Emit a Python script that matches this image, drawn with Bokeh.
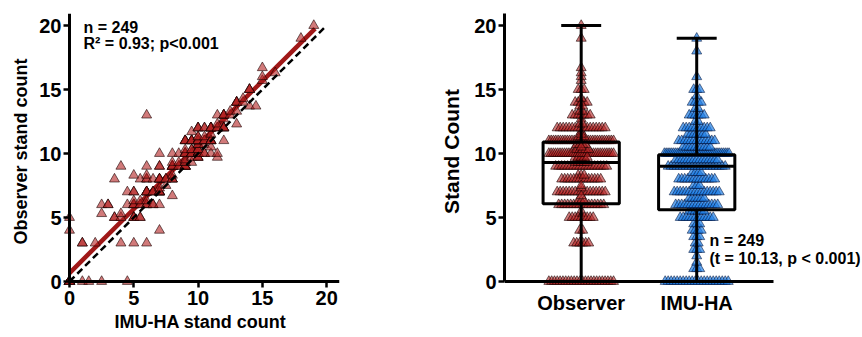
import numpy as np
from bokeh.plotting import figure
from bokeh.layouts import row
from bokeh.models import Range1d, FixedTicker, Label, LinearAxis
from bokeh.embed import file_html
from bokeh.resources import INLINE

# ---------------- data ----------------
# paired stand counts: IMU-HA (x), Observer (y), number of plots with that pair
imu_x = [0, 0, 0,
         1, 1, 1.5, 2, 2.5, 2.5, 2.5, 3, 3.5, 3.5,
         4, 4, 4, 4, 4.5, 4.5, 4.5,
         5, 5, 5, 5, 5, 5,
         5.5, 5.5, 5.5, 5.5,
         6, 6, 6, 6, 6, 6, 6, 6,
         6.5, 6.5, 6.5,
         7, 7, 7, 7, 7, 7, 7,
         7.5, 7.5,
         8, 8, 8, 8, 8, 8,
         8.5, 8.5, 8.5,
         9, 9, 9, 9, 9, 9,
         9.5, 9.5, 9.5, 9.5, 9.5, 9.5,
         10, 10, 10, 10, 10, 10, 10,
         10.5, 10.5, 10.5, 10.5, 10.5,
         11, 11, 11, 11, 11,
         11.5, 11.5, 11.5, 11.5, 11.5,
         12, 12, 12, 12,
         12.5, 12.5,
         13, 13, 13,
         13.5, 13.5,
         14, 14,
         14.5,
         15, 15, 15,
         16, 18, 19]
obs_y = [0, 4, 5,
         0, 3, 0, 3, 0, 5.3, 6, 6, 5, 8,
         3, 5, 5.3, 9, 0, 6, 7,
         3, 5, 6, 6.3, 7, 8.3,
         5, 6, 6.3, 8,
         3, 6, 6.3, 7, 8, 8.3, 9, 13,
         6, 7, 8,
         4, 6, 7, 7.3, 8, 9, 10,
         7.5, 8,
         6.7, 8, 8.3, 9, 9.3, 10,
         9, 9.3, 10,
         9, 9.3, 9.5, 10, 10.3, 11,
         9.3, 9.7, 10, 10.3, 11, 11.7,
         9.7, 10, 10.3, 10.7, 11, 11.3, 12,
         10, 10.7, 11, 11.3, 12,
         10, 10.5, 11, 11.5, 12,
         9.7, 10, 12, 12.3, 13,
         11, 12, 12.7, 13,
         13, 13.3,
         12.3, 13.3, 14,
         14, 14.3,
         13.7, 15,
         13.7,
         15.7, 16, 16.7,
         16.3, 19, 20]
pair_count = [20, 1, 1,
              1, 2, 1, 1, 1, 1, 1, 2, 2, 1,
              1, 1, 1, 1, 1, 1, 1,
              1, 3, 4, 1, 2, 1,
              2, 2, 1, 1,
              1, 3, 1, 5, 2, 1, 1, 1,
              2, 3, 1,
              1, 1, 6, 1, 4, 2, 1,
              1, 2,
              1, 3, 1, 6, 1, 1,
              2, 1, 1,
              6, 2, 1, 6, 1, 4,
              1, 1, 5, 2, 5, 1,
              3, 12, 3, 3, 10, 2, 3,
              2, 1, 4, 1, 2,
              1, 1, 5, 1, 5,
              1, 1, 3, 1, 1,
              1, 4, 1, 4,
              1, 1,
              1, 1, 4,
              1, 1,
              1, 3,
              1,
              1, 1, 1,
              1, 1, 1]

# regression fit (Observer = a + b * IMU-HA)
reg_intercept = 0.66
reg_slope = 1.0
reg_x_range = [0, 19.1]

# box plot summary
groups = ["Observer", "IMU-HA"]
box_min = [0, 0]
box_q1 = [6.07, 5.6]
box_median = [9.3, 9.0]
box_q3 = [10.9, 9.9]
box_max = [20, 19]

count_ticks = [0, 5, 10, 15, 20]
n_text = "n = 249"
r2_text = "R\u00b2 = 0.93; p<0.001"
t_text = "(t = 10.13, p < 0.001)"

# ---------------- helpers ----------------
FONT = "Liberation Sans"
RED = "#b22222"
BLUE = "#1f7fe6"

xs = np.repeat(np.array(imu_x, float), pair_count)
ys = np.repeat(np.array(obs_y, float), pair_count)


def swarm(values, center, step=0.026, half=0.28):
    vals = np.round(np.asarray(values, float), 2)
    out = np.empty_like(vals)
    for v in np.unique(vals):
        idx = np.where(vals == v)[0]
        n = len(idx)
        s = step if n < 2 else min(step, 2 * half / (n - 1))
        out[idx] = center + (np.arange(n) - (n - 1) / 2) * s
    return out


def text_axis(ticks, label="", label_size="18px", tick_size="20px", standoff=1,
              label_standoff=4, overrides=None, line=False):
    """Axis that carries tick labels / axis label (optionally line + ticks)."""
    ax = LinearAxis(ticker=FixedTicker(ticks=ticks))
    if overrides:
        ax.major_label_overrides = overrides
    ax.axis_label = label
    ax.major_label_text_font = FONT
    ax.major_label_text_font_style = "bold"
    ax.major_label_text_font_size = tick_size
    ax.major_label_text_color = "black"
    ax.major_label_standoff = standoff
    ax.axis_label_text_font = FONT
    ax.axis_label_text_font_style = "bold"
    ax.axis_label_text_font_size = label_size
    ax.axis_label_text_color = "black"
    ax.axis_label_standoff = label_standoff
    ax.minor_tick_line_color = None
    if line:
        ax.axis_line_width = 3
        ax.axis_line_color = "black"
        ax.major_tick_line_width = 2.5
        ax.major_tick_line_color = "black"
        ax.major_tick_out = 6
        ax.major_tick_in = 0
    else:
        ax.axis_line_color = None
        ax.major_tick_line_color = None
        ax.major_tick_out = 0
        ax.major_tick_in = 0
    return ax


def rule_axis(ticks, bounds, tick_len):
    """Axis line placed at data value 0, ticks pointing outward, no labels."""
    ax = LinearAxis(ticker=FixedTicker(ticks=ticks), fixed_location=0, bounds=bounds)
    ax.axis_line_width = 3
    ax.axis_line_color = "black"
    ax.major_tick_line_width = 2.5
    ax.major_tick_line_color = "black" if tick_len else None
    ax.major_tick_in = tick_len
    ax.major_tick_out = 0
    ax.minor_tick_line_color = None
    ax.major_label_text_font_size = "1px"
    ax.major_label_text_color = None
    ax.major_label_standoff = 0
    return ax


def label(p, x, y, text):
    p.add_layout(Label(x=x, y=y, text=text, text_baseline="top", text_align="left",
                       text_font=FONT, text_font_style="bold", text_font_size="16px",
                       text_color="black"))


def base_fig(width, x_rng, y_rng, left, right):
    p = figure(width=width, height=337, x_range=x_rng, y_range=y_rng,
               x_axis_location=None, y_axis_location=None,
               output_backend="svg", toolbar_location=None,
               min_border_left=left, min_border_right=right,
               min_border_top=13, min_border_bottom=48)
    p.outline_line_color = None
    p.xgrid.visible = False
    p.ygrid.visible = False
    p.background_fill_color = "white"
    p.border_fill_color = "white"
    return p


Y_LO, Y_HI = -0.625, 20.94

# ---------------- left: scatter ----------------
X1_LO, X1_HI = -0.622, 21.0
p1 = base_fig(349, Range1d(X1_LO, X1_HI), Range1d(Y_LO, Y_HI), 61, 10)
p1.add_layout(text_axis(count_ticks, "IMU-HA stand count", standoff=1, label_standoff=4), "below")
p1.add_layout(text_axis(count_ticks, "Observer stand count", standoff=0, label_standoff=5), "left")
p1.add_layout(rule_axis(count_ticks, (0, X1_HI), 6), "above")
p1.add_layout(rule_axis(count_ticks, (0, Y_HI), 6), "right")

p1.line(reg_x_range, [reg_intercept + reg_slope * v for v in reg_x_range],
        line_color="#a01818", line_width=4.5)
p1.scatter(xs, ys, marker="triangle", size=10, fill_color=RED, fill_alpha=0.6,
           line_color="#1a0000", line_alpha=0.75, line_width=0.8)
p1.line([0, 20], [0, 20], line_color="black", line_width=2.5, line_dash="7 4")
label(p1, 1.09, 20.5, n_text)
label(p1, 1.09, 19.25, r2_text)

# ---------------- right: box + swarm ----------------
X2_LO, X2_AXIS_END, X2_HI = -0.664, 1.667, 2.418
p2 = base_fig(513, Range1d(X2_LO, X2_HI), Range1d(Y_LO, Y_HI), 155, 2)
p2.add_layout(text_axis([0, 1], overrides={0: groups[0], 1: groups[1]}, standoff=2), "below")
y2 = text_axis(count_ticks, "Stand Count", label_size="21px", standoff=2, label_standoff=8,
               line=True)
y2.bounds = (0, Y_HI)
p2.add_layout(y2, "left")
p2.add_layout(rule_axis([0, 1], (X2_LO, X2_AXIS_END), 0), "above")

centers = [0, 1]
p2.scatter(swarm(ys, centers[0]), ys, marker="triangle", size=10, fill_color=RED,
           fill_alpha=0.6, line_color="#1a0000", line_alpha=0.75, line_width=0.8)
p2.scatter(swarm(xs, centers[1]), xs, marker="triangle", size=10, fill_color=BLUE,
           fill_alpha=0.7, line_color="#00123a", line_alpha=0.7, line_width=0.8)

bw = 0.33
cw = 0.173
p2.quad(left=[c - bw for c in centers], right=[c + bw for c in centers],
        bottom=box_q1, top=box_q3, fill_color=None, line_color="black", line_width=3)
p2.segment(x0=[c - bw for c in centers], x1=[c + bw for c in centers],
           y0=box_median, y1=box_median, line_color="black", line_width=3)
p2.segment(x0=centers + centers, x1=centers + centers,
           y0=box_q3 + box_q1, y1=box_max + box_min, line_color="black", line_width=3)
p2.segment(x0=[c - cw for c in centers] * 2, x1=[c + cw for c in centers] * 2,
           y0=box_max + box_min, y1=box_max + box_min, line_color="black", line_width=3)
label(p2, 1.11, 3.9, n_text)
label(p2, 1.11, 2.45, t_text)

layout = row(p1, p2)
open("out.html", "w").write(file_html(layout, INLINE))
